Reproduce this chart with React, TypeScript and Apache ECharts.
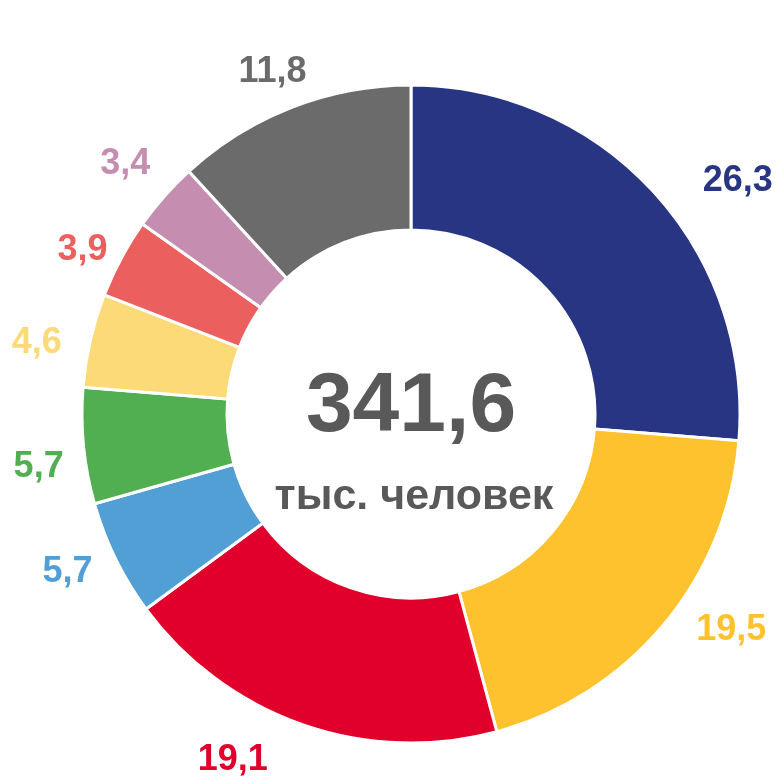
import React, { useEffect, useRef } from "react";
import * as echarts from "echarts";

const categories = ["A", "B", "C", "D", "E", "F", "G", "H", "I"];
const values = [26.3, 19.5, 19.1, 5.7, 5.7, 4.6, 3.9, 3.4, 11.8];
const colors = ["#283583", "#FDC22D", "#E1002B", "#529FD6", "#51AE51", "#FCDA77", "#EB5F5F", "#C58EB0", "#6B6B6B"];
const totalLabel = "341,6";
const unitLabel = "тыс. человек";

export default function App() {
  const ref = useRef<HTMLDivElement>(null);
  useEffect(() => {
    if (!ref.current) return;
    // small label nudges (style only) to mimic the original label placement
    const nudges: [number, number][] = [
      [22, 1], [4, -10], [-15, 14], [8, 2], [13, 17], [4, 5], [17, -1], [14, -22], [35, -19],
    ];
    const chart = echarts.init(ref.current, undefined, { renderer: "svg" });
    chart.setOption({
      animation: false,
      graphic: [
        {
          type: "text",
          x: 411,
          y: 402,
          style: {
            text: totalLabel,
            fontFamily: "Liberation Sans, Arial, sans-serif",
            fontWeight: "bold",
            fontSize: 84,
            fill: "#595959",
            align: "center",
            verticalAlign: "middle",
          },
        },
        {
          type: "text",
          x: 414,
          y: 494,
          style: {
            text: unitLabel,
            fontFamily: "Liberation Sans, Arial, sans-serif",
            fontWeight: "bold",
            fontSize: 43,
            fill: "#595959",
            align: "center",
            verticalAlign: "middle",
          },
        },
      ],
      series: [
        {
          type: "pie",
          center: [411, 414],
          radius: [184, 329],
          startAngle: 90,
          clockwise: true,
          avoidLabelOverlap: false,
          itemStyle: { borderColor: "#ffffff", borderWidth: 3 },
          label: {
            show: true,
            position: "outside",
            fontFamily: "Liberation Sans, Arial, sans-serif",
            fontWeight: "bold",
            fontSize: 36,
            formatter: (p: any) => String(p.value).replace(".", ","),
          },
          labelLine: { show: false, length: 20, length2: 8 },
          labelLayout: (p: any) => {
            const n = nudges[p.dataIndex] || [0, 0];
            return { dx: n[0], dy: n[1] };
          },
          emphasis: { disabled: true },
          data: categories.map((c, i) => ({
            name: c,
            value: values[i],
            itemStyle: { color: colors[i] },
            label: { color: colors[i] },
          })),
        },
      ],
    });
    return () => chart.dispose();
  }, []);
  return <div ref={ref} style={{ position: "fixed", left: 0, top: 0, width: 777, height: 777 }} />;
}
